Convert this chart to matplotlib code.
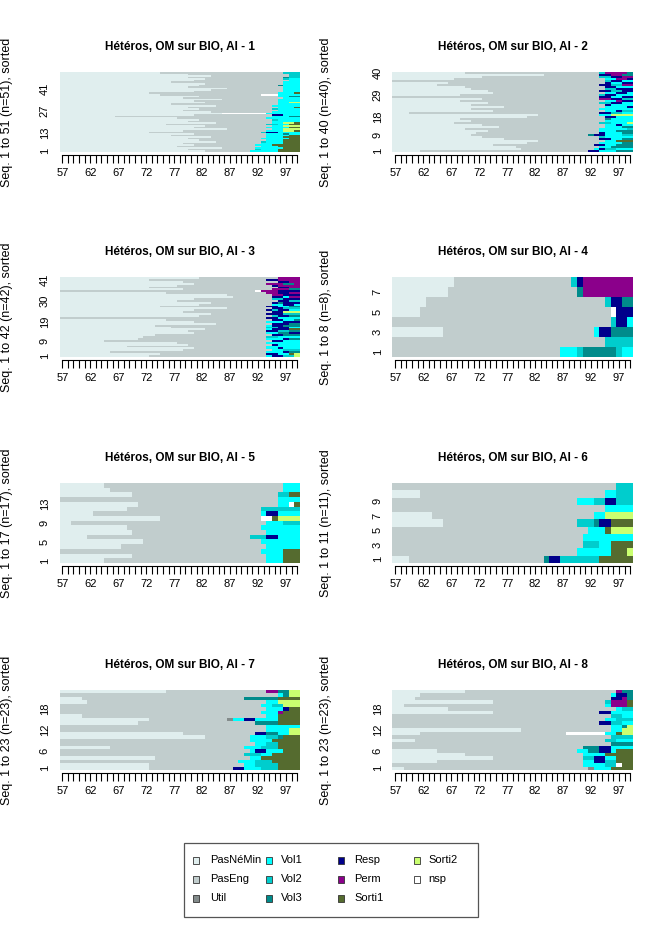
import re
import matplotlib
matplotlib.use("Agg")
import matplotlib.pyplot as plt
from matplotlib.patches import Rectangle

plt.rcParams['font.family'] = ['Liberation Sans', 'DejaVu Sans']

# ---------------- data ----------------
state_labels = ["PasNéMin", "PasEng", "Util", "Vol1", "Vol2", "Vol3",
                "Resp", "Perm", "Sorti1", "Sorti2", "nsp"]
state_codes = ["N", "E", "U", "a", "b", "c", "R", "P", "S", "T", "X"]
state_colors = ["#E0EEEE", "#C1CDCD", "#838B8B", "#00FFFF", "#00CDCD", "#008B8B",
                "#00008B", "#8B008B", "#556B2F", "#CAFF70", "#FFFFFF"]

first_year = 57
last_year = 99
xtick_labels = [57, 62, 67, 72, 77, 82, 87, 92, 97]

panel_titles = ["Hétéros, OM sur BIO, AI - 1", "Hétéros, OM sur BIO, AI - 2",
                "Hétéros, OM sur BIO, AI - 3", "Hétéros, OM sur BIO, AI - 4",
                "Hétéros, OM sur BIO, AI - 5", "Hétéros, OM sur BIO, AI - 6",
                "Hétéros, OM sur BIO, AI - 7", "Hétéros, OM sur BIO, AI - 8"]

ytick_labels = [[1, 13, 27, 41], [1, 9, 18, 29, 40], [1, 9, 19, 30, 41], [1, 3, 5, 7],
                [1, 5, 9, 13], [1, 3, 5, 7, 9], [1, 6, 12, 18], [1, 6, 12, 18]]

# Each sequence: tokens <state code><last year of the spell>, listed bottom row first
seq_ai1 = [
    "N82 E90 a95 S99", "N79 E91 b92 a95 S99", "N85 E91 a96 S99", "N77 E92 a95 S99",
    "N80 E91 a94 S99", "N78 E92 a96 S99", "N84 E92 b93 a96 S99", "N81 E93 a96 S99",
    "N79 E92 a97 S99", "N83 E93 a96 S99", "N76 E93 a97 S99", "N80 E93 a96 c97 a99",
    "N72 E92 b93 R95 a99", "N78 E93 a96 T98 S99", "N86 E94 a96 T99", "N80 E93 a97 S99",
    "N82 E94 a96 T99", "N75 E93 b95 a97 S99", "N84 E94 a96 T98 S99", "N79 E94 a99",
    "N81 E94 b95 a99", "N77 E93 a99", "N66 E94 a97 c99", "N80 E94 R96 a99",
    "N85 X93 a99", "N83 E94 a99", "N78 E95 a99", "N81 E94 b95 a99",
    "N79 E95 a98 S99", "N84 E94 a99", "N76 E95 a99", "N82 E95 a97 T99",
    "N80 E95 a99", "N85 E95 a99", "N78 E96 a99", "N81 E95 a97 c99",
    "N74 E92 X95 a99", "N72 E95 a98 S99", "N80 E96 a99", "N83 E96 a99",
    "N86 E96 a99", "N79 E96 a99", "N81 E95 c96 a99", "N82 E96 a99",
    "N76 E96 a99", "N80 E97 a99", "N82 E96 b97 a99", "N79 E96 c97 b99",
    "N83 E97 b99", "N79 E97 b99", "N74 E96 b99",
]
seq_ai2 = [
    "N61 E91 R93 a96 c99", "N79 E92 a93 R94 b96 a99", "N78 E93 a95 c99", "N74 E92 R94 a96 c99",
    "N80 E93 a97 c99", "N82 E94 a96 S99", "N76 E93 R95 a97 c99", "N72 E93 b94 a99",
    "N70 E91 c92 R94 a97 b99", "N71 E93 R94 a97 c99", "N73 E93 a96 c99", "N69 E93 a98 b99",
    "N75 E94 a97 c99", "N72 E94 a96 R97 a99", "N67 E93 b95 a98 T99", "N70 E94 a99",
    "N68 E94 c95 a99", "N80 E94 R96 a99", "N82 E93 a95 T99", "N59 E93 R95 b97 a99",
    "N74 E94 a96 R97 b99", "N70 E93 a99", "N76 E94 a98 R99", "N70 E94 R95 a99",
    "N73 E93 b95 R97 a99", "N68 E94 a96 P97 R99", "N72 E93 P95 R97 b99", "E93 R95 a97 R99",
    "N68 E93 b94 R96 a99", "N74 E94 a96 R98 a99", "N73 E93 R95 b97 R99", "N70 E94 b96 R99",
    "N69 E94 R96 a99", "N64 E93 R95 b97 P99", "N66 E94 R95 a97 R99", "E94 b95 R97 a99",
    "N67 E94 a96 P98 R99", "N72 E93 b95 R97 P99", "N83 E93 R95 P97 c99", "N69 E93 b94 P98 c99",
]
seq_ai3 = [
    "N72 E93 a94 R96 b98 T99", "N74 E93 R95 a97 S98 T99", "N65 E93 a96 R97 c99", "N78 E94 a96 b99",
    "N80 E93 a95 R96 a99", "N68 E93 a99", "N79 E94 R95 a99", "N77 E93 a99",
    "N64 E94 R96 a99", "N70 E93 a96 R97 c99", "N71 E93 b95 a99", "N73 E94 R96 c99",
    "N80 E93 a95 c97 R99", "N79 E93 R95 b97 c99", "N82 E93 a94 R97 S99", "N76 E93 b95 R97 a99",
    "N73 E93 a94 R96 c99", "N84 E94 R97 c99", "N80 E93 a96 R99", "N75 E94 R96 a98 c99",
    "E93 R95 a99", "N81 E94 b95 R97 c99", "N83 E93 R96 b99", "N78 E94 R96 T99",
    "N80 E93 R94 b95 R97 a99", "N86 E94 R96 b99", "N74 E93 R95 a97 c99", "N81 E94 a96 R98 a99",
    "N83 E94 R95 c96 R99", "N77 E95 R97 b99", "N80 E94 b96 R99", "N87 E94 R96 a97 P99",
    "N86 E94 P96 R99", "N75 E93 P95 R97 P99", "E91 X92 P95 R99", "N78 E94 P97 c99",
    "N72 E95 R97 P99", "N77 E94 R95 P99", "N80 E93 P96 c98 P99", "N78 E95 R97 P99",
    "N72 E93 R95 P99", "N81 E95 P99",
]
seq_ai4 = [
    "E86 a89 b90 c96 b97 a99", "E94 b99", "N65 E92 a93 R95 c99", "E95 b96 R98 a99",
    "N61 E95 X96 R99", "N62 E94 b95 R97 c99", "N66 E89 c90 P99", "N67 E88 b89 R90 P99",
]
seq_ai5 = [
    "N64 E93 a96 S99", "N69 E93 a96 S99", "E92 a96 S99", "N67 E93 a99",
    "N71 E92 a99", "N61 E90 b93 R95 a99", "N69 E93 a99", "N68 E92 a99",
    "N58 E93 a96 b99", "N74 E92 X94 S95 T99", "N62 E92 a93 R95 a99", "N68 E92 b99",
    "N70 E95 a97 X98 S99", "E95 a99", "N69 E95 b97 S99", "N65 E96 a99",
    "N64 E96 a99",
]
seq_ai6 = [
    "N59 E83 c84 R86 b93 S99", "E89 a95 S98 T99", "E90 b93 a95 S99", "E90 a99",
    "E91 a94 S95 T99", "N65 E89 b92 c93 R95 S99", "N63 E92 a94 T99", "E94 a99",
    "E89 a92 b94 R96 b99", "N61 E94 a96 b99", "E96 b99",
]
seq_ai7 = [
    "N72 E87 R89 a92 b95 S99", "N72 E89 a91 b95 S99", "E88 a91 b94 S99", "N73 E90 a92 S99",
    "E89 b92 a94 S99", "E90 a91 R93 a96 S99", "N65 E89 a92 b95 S99", "E91 a93 b95 S99",
    "E90 a94 S99", "N82 E90 a93 b95 c96 S99", "N78 E91 R93 c95 a97 T99", "E93 a97 T99",
    "E93 a99", "N70 E91 c95 S99", "N72 E86 U87 a89 R91 a95 S99", "N60 E93 a95 S99",
    "E92 a95 P96 S99", "E93 a96 R97 S99", "E92 a94 b96 T99", "N61 E93 a95 T99",
    "N60 E89 c95 S99", "E95 a96 c97 T99", "N75 E93 P95 c97 T99",
]
seq_ai8 = [
    "N58 E91 U92 a95 S99", "E90 a94 b96 X97 S99", "N64 E90 a92 R94 b96 S99", "N74 E90 b92 R94 a96 S99",
    "N69 E90 a94 S99", "N64 E89 a91 c93 R95 a96 S99", "E90 c93 R95 a99", "E95 c99",
    "N60 E94 b96 a99", "E95 b99", "N61 E87 X94 a96 S97 T99", "N79 E95 a97 T99",
    "E95 a97 c98 T99", "E93 R95 b97 a99", "E94 a96 b99", "E95 b97 a99",
    "N74 E93 R95 a99", "N66 E96 a97 b99", "N58 E94 a95 P98 S99", "N74 E94 b95 P98 S99",
    "N60 E95 R97 P98 c99", "N61 E95 a96 R98 c99", "N69 E96 P97 c99",
]
panel_sequences = [seq_ai1, seq_ai2, seq_ai3, seq_ai4, seq_ai5, seq_ai6, seq_ai7, seq_ai8]

# ---------------- figure ----------------
W, H = 653, 942
fig = plt.figure(figsize=(W / 100, H / 100), dpi=100)
fig.patch.set_facecolor("white")

col_left_px = [59.5, 392.5]
col_width_px = 240.5
col_ylabel_px = [7, 326]
row_top_px = [72, 277, 483, 690]
row_height_px = 80

code_index = {c: i for i, c in enumerate(state_codes)}
tok_re = re.compile(r"([A-Za-z])(\d+)")

FS = 8

for p, seqs in enumerate(panel_sequences):
    r, c = divmod(p, 2)
    left = col_left_px[c] / W
    bottom = 1 - (row_top_px[r] + row_height_px) / H
    ax = fig.add_axes([left, bottom, col_width_px / W, row_height_px / H])
    n = len(seqs)
    # collect spells per state
    spells = {i: ([], [], []) for i in range(len(state_codes))}
    for row, s in enumerate(seqs):
        start = first_year
        for code, end in tok_re.findall(s):
            end = int(end)
            si = code_index[code]
            spells[si][0].append(row + 0.5)
            spells[si][1].append(end - start + 1)
            spells[si][2].append(start - 0.5)
            start = end + 1
    for si, (ys, ws, ls) in spells.items():
        if ys:
            ax.barh(ys, ws, left=ls, height=1.0, color=state_colors[si],
                    linewidth=0, edgecolor="none")
    ax.set_xlim(first_year - 0.5, last_year + 0.5)
    ax.set_ylim(0, n)
    for side in ["top", "right", "left"]:
        ax.spines[side].set_visible(False)
    ax.spines["bottom"].set_position(("outward", 2))
    ax.spines["bottom"].set_bounds(first_year, last_year)
    ax.spines["bottom"].set_linewidth(0.8)
    years = list(range(first_year, last_year + 1))
    ax.set_xticks(years)
    ax.set_xticklabels([str(y) if y in xtick_labels else "" for y in years], fontsize=FS)
    ax.tick_params(axis="x", length=6, width=0.8, pad=3.5, direction="out")
    yl = ytick_labels[p]
    ax.set_yticks([k - 0.5 for k in yl])
    ax.set_yticklabels([str(k) for k in yl], fontsize=FS, rotation=90, va="center", ha="right")
    ax.tick_params(axis="y", length=0, pad=7)
    ax.set_title(panel_titles[p], fontsize=8.5, fontweight="bold", pad=16)
    xfrac = (col_ylabel_px[c] - col_left_px[c]) / col_width_px
    ax.text(xfrac, 0.5, f"Seq. 1 to {n} (n={n}), sorted", rotation=90,
            ha="center", va="center", fontsize=9, transform=ax.transAxes)

# ---------------- legend ----------------
lax = fig.add_axes([0, 0, 1, 1])
lax.set_xlim(0, W)
lax.set_ylim(H, 0)
lax.axis("off")
box = Rectangle((184, 843), 294, 74, fill=False, edgecolor="#555555", linewidth=0.9)
lax.add_patch(box)
col_sq_x = [196, 269, 341, 417]
col_tx_x = [210, 281, 354, 428]
row_y = [860, 879, 898]
for i, lab in enumerate(state_labels):
    cc, rr = divmod(i, 3)
    lax.add_patch(Rectangle((col_sq_x[cc] - 3, row_y[rr] - 3.5), 6, 7,
                            facecolor=state_colors[i], edgecolor="#333333", linewidth=0.6))
    lax.text(col_tx_x[cc], row_y[rr], lab, fontsize=FS, ha="left", va="center")

fig.savefig("out.png", dpi=100, facecolor="white")
